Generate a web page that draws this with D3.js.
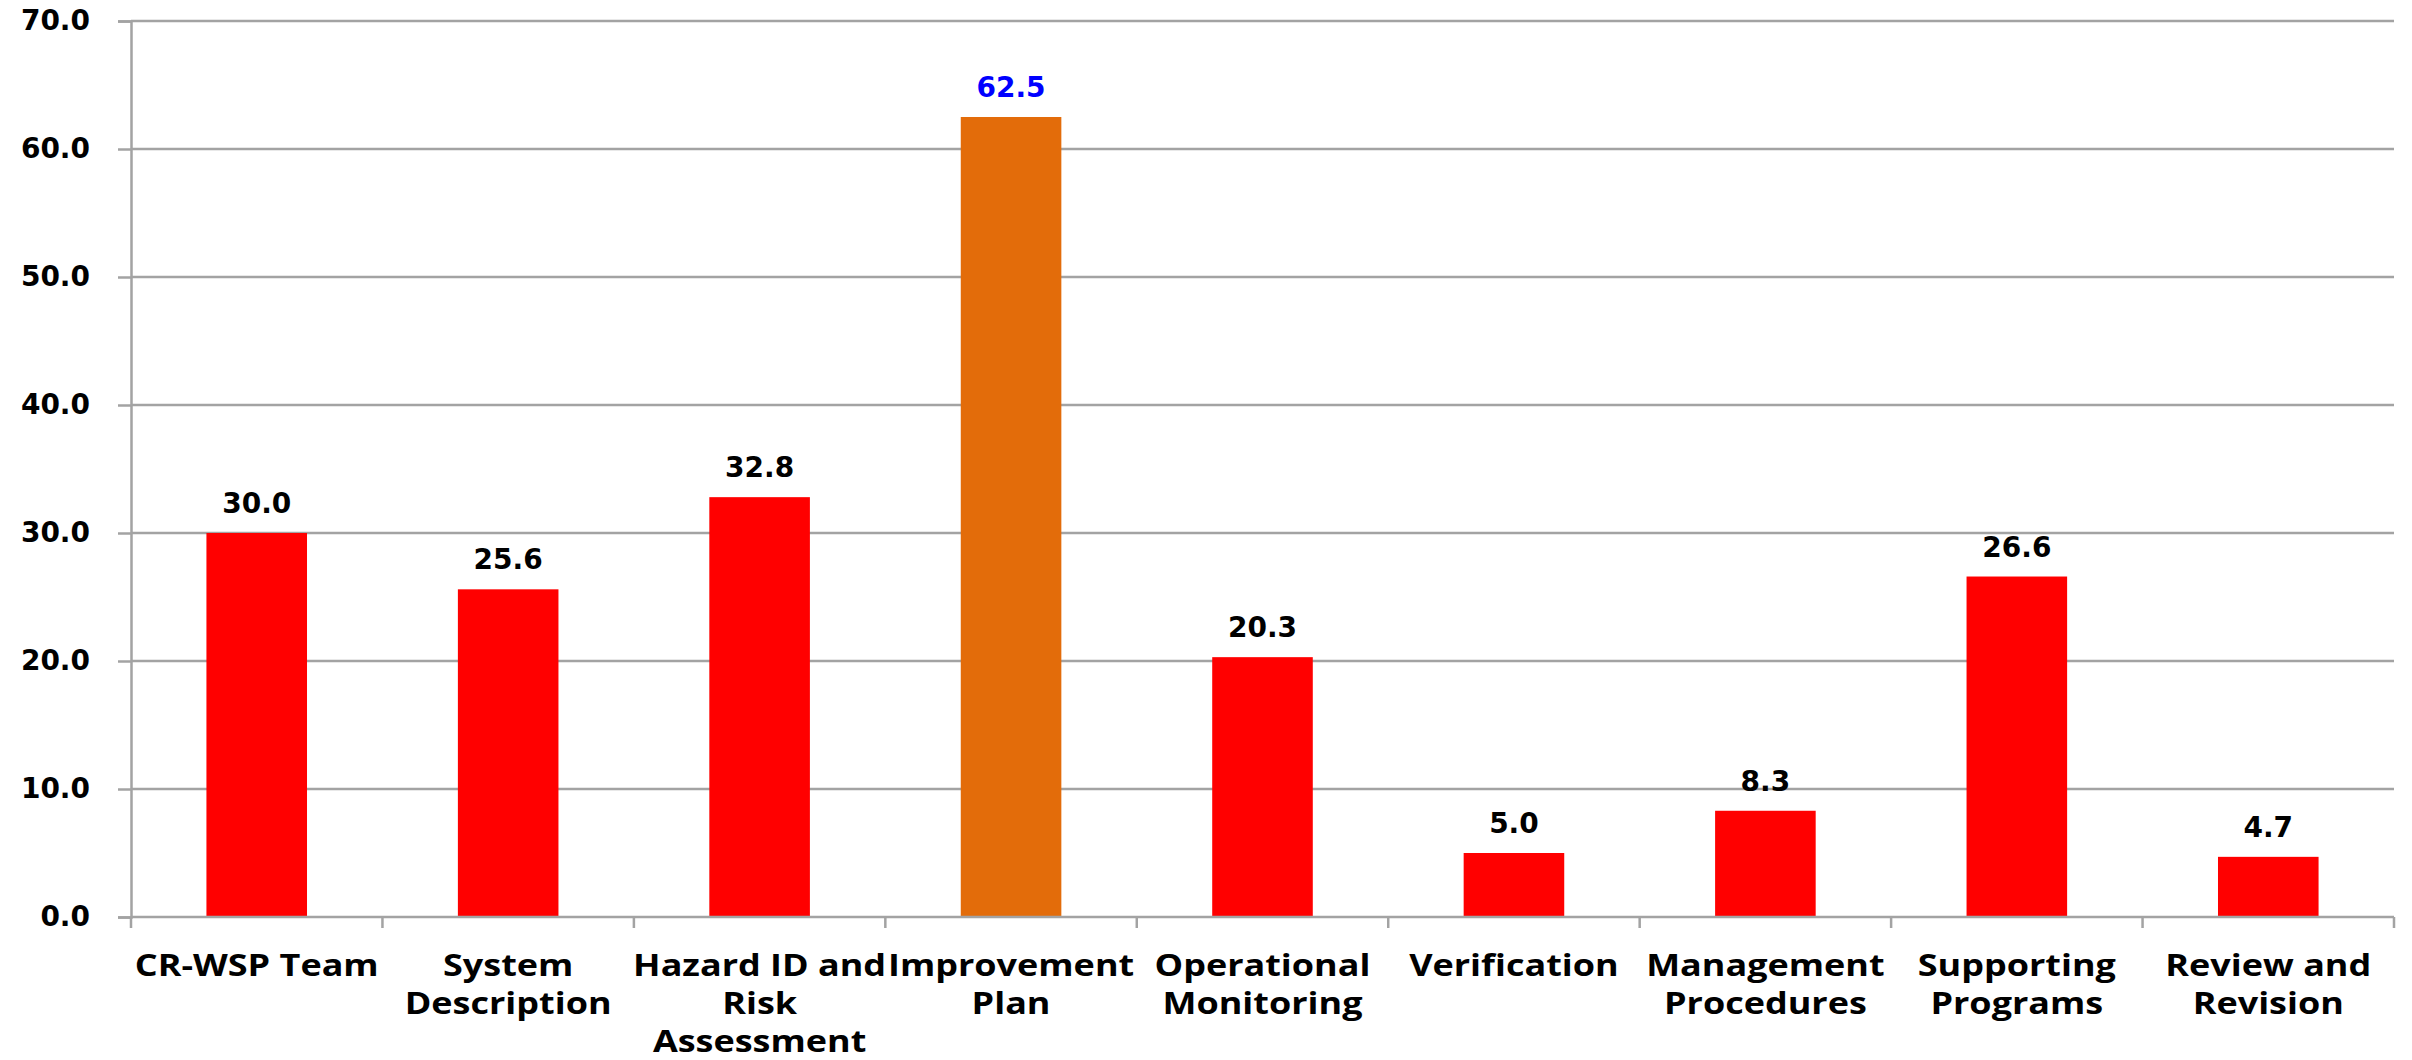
<!DOCTYPE html>
<html>
<head>
<meta charset="utf-8">
<script src="https://cdn.jsdelivr.net/npm/d3@7"></script>
<style>
  body { margin: 0; background: #fff; }
  svg { display: block; }
</style>
</head>
<body>
<svg id="chart" width="2412" height="1060"></svg>
<script>
// data
const categories = [
    "CR-WSP Team", "System Description", "Hazard ID and Risk Assessment",
    "Improvement Plan", "Operational Monitoring", "Verification",
    "Management Procedures", "Supporting Programs", "Review and Revision"
];
const labelLines = [
    ["CR-WSP Team"], ["System", "Description"], ["Hazard ID and", "Risk", "Assessment"],
    ["Improvement", "Plan"], ["Operational", "Monitoring"], ["Verification"],
    ["Management", "Procedures"], ["Supporting", "Programs"], ["Review and", "Revision"]
];
const values = [30.0, 25.6, 32.8, 62.5, 20.3, 5.0, 8.3, 26.6, 4.7];
const highlighted = ["Improvement Plan"];
const yTicks = [0, 10, 20, 30, 40, 50, 60, 70];

const data = categories.map((c, i) => ({ cat: c, value: values[i], lines: labelLines[i] }));

const svg = d3.select("#chart");
const plotLeft = 131, plotRight = 2394, plotTop = 21, plotBottom = 917;
const gridColor = "#a3a3a3";

const x = d3.scaleBand().domain(categories).range([plotLeft, plotRight]).padding(0);
const y = d3.scaleLinear().domain([0, 70]).range([plotBottom, plotTop]);
const barW = x.bandwidth() * 0.4;

// gridlines + y axis
const yAxis = d3.axisLeft(y)
    .tickValues(yTicks)
    .tickSize(13)
    .tickPadding(28)
    .tickFormat(d3.format(".1f"));

const gy = svg.append("g")
    .attr("transform", `translate(${plotLeft},0)`)
    .call(yAxis);
gy.select(".domain").attr("stroke", gridColor).attr("stroke-width", 2.5);
gy.selectAll(".tick line").attr("stroke", gridColor).attr("stroke-width", 2.5);
gy.selectAll(".tick text")
    .attr("font-family", "DejaVu Sans, Verdana, sans-serif")
    .attr("font-weight", "bold")
    .attr("font-size", "28px")
    .attr("fill", "#000");

svg.append("g")
    .selectAll("line")
    .data(yTicks.filter(d => d > 0))
    .join("line")
    .attr("x1", plotLeft)
    .attr("x2", plotRight)
    .attr("y1", d => y(d))
    .attr("y2", d => y(d))
    .attr("stroke", gridColor)
    .attr("stroke-width", 2.5);

// bars
svg.append("g")
    .selectAll("rect")
    .data(data)
    .join("rect")
    .attr("x", d => x(d.cat) + (x.bandwidth() - barW) / 2)
    .attr("width", barW)
    .attr("y", d => y(d.value))
    .attr("height", d => y(0) - y(d.value))
    .attr("fill", d => highlighted.includes(d.cat) ? "#e36c0a" : "#ff0000");

// x axis baseline + category ticks
svg.append("line")
    .attr("x1", plotLeft).attr("x2", plotRight)
    .attr("y1", plotBottom).attr("y2", plotBottom)
    .attr("stroke", gridColor).attr("stroke-width", 2.5);

const boundaries = categories.map(c => x(c)).concat([plotRight]);
svg.append("g")
    .selectAll("line")
    .data(boundaries)
    .join("line")
    .attr("x1", d => d).attr("x2", d => d)
    .attr("y1", plotBottom).attr("y2", plotBottom + 11)
    .attr("stroke", gridColor).attr("stroke-width", 2.5);

// value labels
svg.append("g")
    .selectAll("text")
    .data(data)
    .join("text")
    .attr("x", d => x(d.cat) + x.bandwidth() / 2)
    .attr("y", d => y(d.value) - 20)
    .attr("text-anchor", "middle")
    .attr("font-family", "DejaVu Sans, Verdana, sans-serif")
    .attr("font-weight", "bold")
    .attr("font-size", "28px")
    .attr("fill", d => highlighted.includes(d.cat) ? "#0000ff" : "#000")
    .text(d => d3.format(".1f")(d.value));

// category labels (the reference font runs wide, so stretch a bit)
const catG = svg.append("g")
    .selectAll("g")
    .data(data)
    .join("g")
    .attr("transform", d => `translate(${x(d.cat) + x.bandwidth() / 2},976) scale(1.22,1)`);

catG.selectAll("text")
    .data(d => d.lines)
    .join("text")
    .attr("y", (d, i) => i * 38)
    .attr("text-anchor", "middle")
    .attr("font-family", "Open Sans, sans-serif")
    .attr("font-weight", "bold")
    .attr("font-size", "29.5px")
    .attr("fill", "#000")
    .text(d => d);
</script>
</body>
</html>
